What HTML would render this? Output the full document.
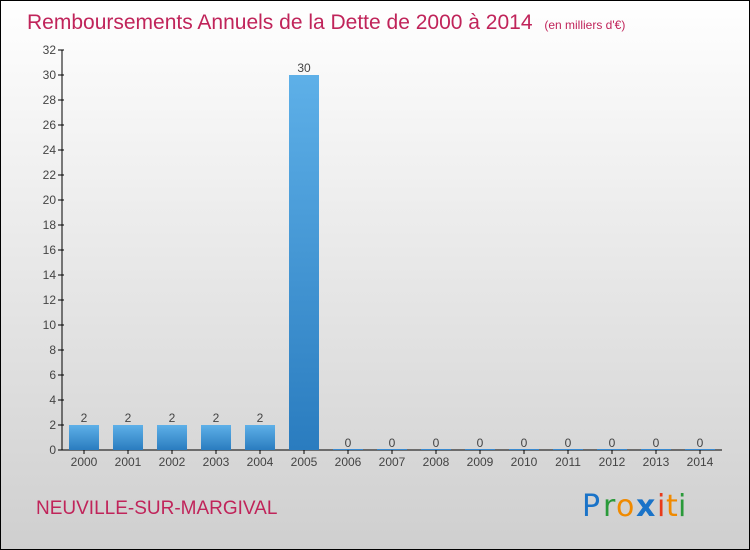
<!DOCTYPE html>
<html><head><meta charset="utf-8"><style>
html,body{margin:0;padding:0;width:750px;height:550px;overflow:hidden}
svg{display:block;font-family:"Liberation Sans",sans-serif}
</style></head><body>
<svg id="chart" width="750" height="550" xmlns="http://www.w3.org/2000/svg">
<defs>
<linearGradient id="bg" x1="0" y1="0" x2="0" y2="1"><stop offset="0" stop-color="#ffffff"/><stop offset="1" stop-color="#cfcfcf"/></linearGradient>
<linearGradient id="bar" x1="0" y1="0" x2="0" y2="1"><stop offset="0" stop-color="#5eb0e8"/><stop offset="1" stop-color="#2a7cbf"/></linearGradient>
</defs>
<rect x="0.5" y="0.5" width="749" height="549" fill="url(#bg)" stroke="#000"/>
<text x="27" y="29" font-size="21" fill="#c0245a">Remboursements Annuels de la Dette de 2000 à 2014 <tspan font-size="12" dx="6">(en milliers d'€)</tspan></text>
<g id="axes"></g>
<g id="bars"></g>
<text x="36" y="514" font-size="19" fill="#c0245a">NEUVILLE-SUR-MARGIVAL</text>
<g font-size="30" font-family="'DejaVu Sans',sans-serif">
<text x="582" y="516" fill="#1a73c8">P</text><text x="603" y="516" fill="#2a9a3a">r</text><text x="616" y="516" fill="#f08a00">o</text><text x="636" y="516" fill="#1a73c8" font-weight="bold">x</text><text x="657" y="516" fill="#e83a1a">i</text><text x="666" y="516" fill="#f08a00">t</text><text x="678" y="516" fill="#2a9a3a">i</text>
</g>
</svg>
<script>
const categories=["2000","2001","2002","2003","2004","2005","2006","2007","2008","2009","2010","2011","2012","2013","2014"];
const values=[2,2,2,2,2,30,0,0,0,0,0,0,0,0,0];
const yTicks=[0,2,4,6,8,10,12,14,16,18,20,22,24,26,28,30,32];
const NS="http://www.w3.org/2000/svg";
const x0=62,x1=722,y0=450,yTop=50,yMax=32,step=(x1-x0)/categories.length;
const y=v=>y0-(v/yMax)*(y0-yTop);
const xc=i=>x0+step*(i+0.5);
function mk(t,a,p){const e=document.createElementNS(NS,t);for(const k in a)e.setAttribute(k,a[k]);p.appendChild(e);return e;}
const ax=document.getElementById('axes'),bg=document.getElementById('bars');
const yl=mk('line',{x1:x0,y1:yTop,x2:x0,y2:y0,stroke:'#000'},ax);


const xl=mk('line',{x1:x0,y1:y0,x2:x1,y2:y0,stroke:'#000'},ax);


yTicks.forEach(t=>{
 mk('line',{x1:x0-4,y1:y(t),x2:x0+2,y2:y(t),stroke:'#000'},ax);
 const tx=mk('text',{x:x0-6,y:y(t)+4,'font-size':12,fill:'#444','text-anchor':'end'},ax);
 
 
 tx.textContent=t;
});
categories.forEach((c,i)=>{
 mk('line',{x1:xc(i),y1:y0,x2:xc(i),y2:y0+4,stroke:'#000'},ax);
 const tx=mk('text',{x:xc(i),y:y0+16,'font-size':12,fill:'#444','text-anchor':'middle'},ax);
 
 
 tx.textContent=c;
 const v=values[i],h=Math.max(y0-y(v),1);
 const r=mk('rect',{x:xc(i)-15,y:y0-h,width:30,height:h,fill:v>0?'url(#bar)':'#3a8ad0'},bg);
 
 
 const vl=mk('text',{x:xc(i),y:y(v)-3,'font-size':12,fill:'#444','text-anchor':'middle'},bg);
 
 
 vl.textContent=v;
});
</script>
</body></html>
